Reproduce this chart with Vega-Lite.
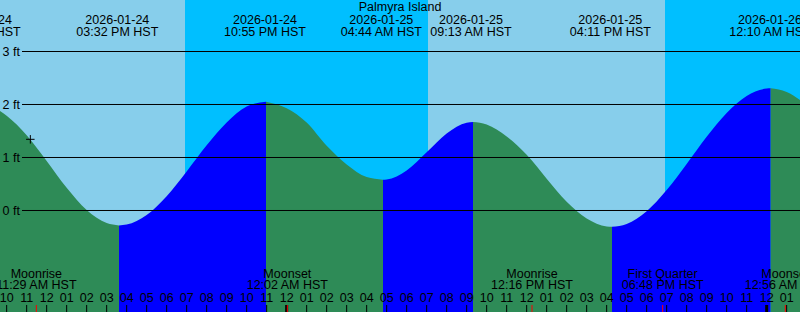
{
  "$schema": "https://vega.github.io/schema/vega-lite/v6.json",
  "width": 800,
  "height": 312,
  "padding": 0,
  "autosize": {"type": "none"},
  "background": "#87ceeb",
  "config": {"view": {"stroke": null}},
  "datasets": {
    "sky": [
      {"t0": "2026-01-24T09:00:00", "t1": "2026-01-24T18:55:00", "kind": "day"},
      {"t0": "2026-01-24T18:55:00", "t1": "2026-01-25T07:04:00", "kind": "night"},
      {"t0": "2026-01-25T07:04:00", "t1": "2026-01-25T18:55:00", "kind": "day"},
      {"t0": "2026-01-25T18:55:00", "t1": "2026-01-26T02:00:00", "kind": "night"}
    ],
    "tide": [
      {"t": "2026-01-24T09:40:00", "ft": 1.877, "seg": "A", "kind": "fall"},
      {"t": "2026-01-24T10:00:00", "ft": 1.787, "seg": "A", "kind": "fall"},
      {"t": "2026-01-24T11:00:00", "ft": 1.421, "seg": "A", "kind": "fall"},
      {"t": "2026-01-24T12:00:00", "ft": 0.935, "seg": "A", "kind": "fall"},
      {"t": "2026-01-24T13:00:00", "ft": 0.429, "seg": "A", "kind": "fall"},
      {"t": "2026-01-24T14:00:00", "ft": 0.008, "seg": "A", "kind": "fall"},
      {"t": "2026-01-24T15:00:00", "ft": -0.238, "seg": "A", "kind": "fall"},
      {"t": "2026-01-24T15:37:00", "ft": -0.282, "seg": "A", "kind": "fall"},
      {"t": "2026-01-24T15:37:00", "ft": -0.282, "seg": "B", "kind": "rise"},
      {"t": "2026-01-24T16:00:00", "ft": -0.266, "seg": "B", "kind": "rise"},
      {"t": "2026-01-24T17:00:00", "ft": -0.085, "seg": "B", "kind": "rise"},
      {"t": "2026-01-24T18:00:00", "ft": 0.27, "seg": "B", "kind": "rise"},
      {"t": "2026-01-24T19:00:00", "ft": 0.737, "seg": "B", "kind": "rise"},
      {"t": "2026-01-24T20:00:00", "ft": 1.229, "seg": "B", "kind": "rise"},
      {"t": "2026-01-24T21:00:00", "ft": 1.661, "seg": "B", "kind": "rise"},
      {"t": "2026-01-24T22:00:00", "ft": 1.96, "seg": "B", "kind": "rise"},
      {"t": "2026-01-24T22:58:00", "ft": 2.053, "seg": "B", "kind": "rise"},
      {"t": "2026-01-24T22:58:00", "ft": 2.053, "seg": "C", "kind": "fall"},
      {"t": "2026-01-25T00:00:00", "ft": 1.93, "seg": "C", "kind": "fall"},
      {"t": "2026-01-25T01:00:00", "ft": 1.66, "seg": "C", "kind": "fall"},
      {"t": "2026-01-25T02:00:00", "ft": 1.22, "seg": "C", "kind": "fall"},
      {"t": "2026-01-25T03:00:00", "ft": 0.87, "seg": "C", "kind": "fall"},
      {"t": "2026-01-25T04:00:00", "ft": 0.632, "seg": "C", "kind": "fall"},
      {"t": "2026-01-25T04:49:00", "ft": 0.581, "seg": "C", "kind": "fall"},
      {"t": "2026-01-25T04:49:00", "ft": 0.581, "seg": "D", "kind": "rise"},
      {"t": "2026-01-25T05:00:00", "ft": 0.585, "seg": "D", "kind": "rise"},
      {"t": "2026-01-25T06:00:00", "ft": 0.755, "seg": "D", "kind": "rise"},
      {"t": "2026-01-25T07:00:00", "ft": 1.098, "seg": "D", "kind": "rise"},
      {"t": "2026-01-25T08:00:00", "ft": 1.455, "seg": "D", "kind": "rise"},
      {"t": "2026-01-25T09:00:00", "ft": 1.657, "seg": "D", "kind": "rise"},
      {"t": "2026-01-25T09:19:00", "ft": 1.67, "seg": "D", "kind": "rise"},
      {"t": "2026-01-25T09:19:00", "ft": 1.67, "seg": "E", "kind": "fall"},
      {"t": "2026-01-25T10:00:00", "ft": 1.622, "seg": "E", "kind": "fall"},
      {"t": "2026-01-25T11:00:00", "ft": 1.395, "seg": "E", "kind": "fall"},
      {"t": "2026-01-25T12:00:00", "ft": 1.05, "seg": "E", "kind": "fall"},
      {"t": "2026-01-25T13:00:00", "ft": 0.6, "seg": "E", "kind": "fall"},
      {"t": "2026-01-25T14:00:00", "ft": 0.164, "seg": "E", "kind": "fall"},
      {"t": "2026-01-25T15:00:00", "ft": -0.15, "seg": "E", "kind": "fall"},
      {"t": "2026-01-25T16:00:00", "ft": -0.3, "seg": "E", "kind": "fall"},
      {"t": "2026-01-25T16:16:00", "ft": -0.306, "seg": "E", "kind": "fall"},
      {"t": "2026-01-25T16:16:00", "ft": -0.306, "seg": "F", "kind": "rise"},
      {"t": "2026-01-25T17:00:00", "ft": -0.253, "seg": "F", "kind": "rise"},
      {"t": "2026-01-25T18:00:00", "ft": -0.013, "seg": "F", "kind": "rise"},
      {"t": "2026-01-25T19:00:00", "ft": 0.385, "seg": "F", "kind": "rise"},
      {"t": "2026-01-25T20:00:00", "ft": 0.878, "seg": "F", "kind": "rise"},
      {"t": "2026-01-25T21:00:00", "ft": 1.39, "seg": "F", "kind": "rise"},
      {"t": "2026-01-25T22:00:00", "ft": 1.84, "seg": "F", "kind": "rise"},
      {"t": "2026-01-25T23:00:00", "ft": 2.162, "seg": "F", "kind": "rise"},
      {"t": "2026-01-26T00:00:00", "ft": 2.302, "seg": "F", "kind": "rise"},
      {"t": "2026-01-26T00:12:00", "ft": 2.306, "seg": "F", "kind": "rise"},
      {"t": "2026-01-26T00:12:00", "ft": 2.306, "seg": "G", "kind": "fall"},
      {"t": "2026-01-26T01:00:00", "ft": 2.237, "seg": "G", "kind": "fall"},
      {"t": "2026-01-26T01:40:00", "ft": 2.085, "seg": "G", "kind": "fall"},
      {"t": "2026-01-26T02:00:00", "ft": 1.98, "seg": "G", "kind": "fall"}
    ],
    "grid": [
      {"v": 0, "lab": "0 ft"},
      {"v": 1, "lab": "1 ft"},
      {"v": 2, "lab": "2 ft"},
      {"v": 3, "lab": "3 ft"}
    ],
    "hours": [
      {"t": "2026-01-24T10:00:00"}, {"t": "2026-01-24T11:00:00"}, {"t": "2026-01-24T12:00:00"},
      {"t": "2026-01-24T13:00:00"}, {"t": "2026-01-24T14:00:00"}, {"t": "2026-01-24T15:00:00"},
      {"t": "2026-01-24T16:00:00"}, {"t": "2026-01-24T17:00:00"}, {"t": "2026-01-24T18:00:00"},
      {"t": "2026-01-24T19:00:00"}, {"t": "2026-01-24T20:00:00"}, {"t": "2026-01-24T21:00:00"},
      {"t": "2026-01-24T22:00:00"}, {"t": "2026-01-24T23:00:00"}, {"t": "2026-01-25T00:00:00"},
      {"t": "2026-01-25T01:00:00"}, {"t": "2026-01-25T02:00:00"}, {"t": "2026-01-25T03:00:00"},
      {"t": "2026-01-25T04:00:00"}, {"t": "2026-01-25T05:00:00"}, {"t": "2026-01-25T06:00:00"},
      {"t": "2026-01-25T07:00:00"}, {"t": "2026-01-25T08:00:00"}, {"t": "2026-01-25T09:00:00"},
      {"t": "2026-01-25T10:00:00"}, {"t": "2026-01-25T11:00:00"}, {"t": "2026-01-25T12:00:00"},
      {"t": "2026-01-25T13:00:00"}, {"t": "2026-01-25T14:00:00"}, {"t": "2026-01-25T15:00:00"},
      {"t": "2026-01-25T16:00:00"}, {"t": "2026-01-25T17:00:00"}, {"t": "2026-01-25T18:00:00"},
      {"t": "2026-01-25T19:00:00"}, {"t": "2026-01-25T20:00:00"}, {"t": "2026-01-25T21:00:00"},
      {"t": "2026-01-25T22:00:00"}, {"t": "2026-01-25T23:00:00"}, {"t": "2026-01-26T00:00:00"},
      {"t": "2026-01-26T01:00:00"}
    ],
    "midnights": [
      {"t": "2026-01-25T00:00:00"},
      {"t": "2026-01-26T00:00:00"}
    ],
    "moon": [
      {"t": "2026-01-24T11:29:00", "name": "Moonrise", "time": "11:29 AM HST"},
      {"t": "2026-01-25T00:02:00", "name": "Moonset", "time": "12:02 AM HST"},
      {"t": "2026-01-25T12:16:00", "name": "Moonrise", "time": "12:16 PM HST"},
      {"t": "2026-01-25T18:48:00", "name": "First Quarter", "time": "06:48 PM HST"},
      {"t": "2026-01-26T00:56:00", "name": "Moonset", "time": "12:56 AM HST"}
    ],
    "events": [
      {"t": "2026-01-24T08:40:00", "date": "2026-01-24", "time": "08:40 AM HST"},
      {"t": "2026-01-24T15:32:00", "date": "2026-01-24", "time": "03:32 PM HST"},
      {"t": "2026-01-24T22:55:00", "date": "2026-01-24", "time": "10:55 PM HST"},
      {"t": "2026-01-25T04:44:00", "date": "2026-01-25", "time": "04:44 AM HST"},
      {"t": "2026-01-25T09:13:00", "date": "2026-01-25", "time": "09:13 AM HST"},
      {"t": "2026-01-25T16:11:00", "date": "2026-01-25", "time": "04:11 PM HST"},
      {"t": "2026-01-26T00:10:00", "date": "2026-01-26", "time": "12:10 AM HST"}
    ],
    "title": [
      {"t": "2026-01-25T05:40:00", "name": "Palmyra Island"}
    ],
    "marker": [
      {"t": "2026-01-24T11:11:00", "ft": 1.343}
    ]
  },
  "layer": [
    {
      "data": {"name": "sky"},
      "mark": {"type": "rect"},
      "encoding": {
        "x": {"field": "t0", "type": "temporal", "axis": null,
              "scale": {"domain": [{"year": 2026, "month": 1, "date": 24, "hours": 9, "minutes": 40},
                                   {"year": 2026, "month": 1, "date": 26, "hours": 1, "minutes": 40}], "nice": false}},
        "x2": {"field": "t1"},
        "y": {"datum": 3.9717, "type": "quantitative", "axis": null,
              "scale": {"domain": [-1.9151, 3.9717], "nice": false, "zero": false}},
        "y2": {"datum": -1.9151},
        "color": {"field": "kind", "type": "nominal", "legend": null,
                  "scale": {"domain": ["day", "night", "rise", "fall"],
                            "range": ["#87ceeb", "#00bfff", "#0000ff", "#2e8b57"]}}
      }
    },
    {
      "data": {"name": "tide"},
      "mark": {"type": "area", "interpolate": "monotone", "clip": true, "opacity": 1},
      "encoding": {
        "x": {"field": "t", "type": "temporal"},
        "y": {"field": "ft", "type": "quantitative", "stack": null},
        "y2": {"datum": -2.2},
        "color": {"field": "kind", "type": "nominal"},
        "detail": {"field": "seg"}
      }
    },
    {
      "data": {"name": "grid"},
      "mark": {"type": "rule", "color": "black", "strokeWidth": 1},
      "encoding": {
        "x": {"datum": {"year": 2026, "month": 1, "date": 24, "hours": 10, "minutes": 46}, "type": "temporal"},
        "x2": {"datum": {"year": 2026, "month": 1, "date": 26, "hours": 1, "minutes": 40}},
        "y": {"field": "v", "type": "quantitative"}
      }
    },
    {
      "data": {"name": "grid"},
      "mark": {"type": "text", "align": "left", "baseline": "alphabetic", "dx": 2.5, "dy": 4.2,
               "font": "Liberation Sans", "fontSize": 12.5, "color": "black"},
      "encoding": {
        "x": {"datum": {"year": 2026, "month": 1, "date": 24, "hours": 9, "minutes": 40}, "type": "temporal"},
        "y": {"field": "v", "type": "quantitative"},
        "text": {"field": "lab"}
      }
    },
    {
      "data": {"name": "hours"},
      "mark": {"type": "rule", "color": "black", "strokeWidth": 1, "clip": true},
      "encoding": {
        "x": {"field": "t", "type": "temporal"},
        "y": {"datum": -1.783},
        "y2": {"datum": -2.2}
      }
    },
    {
      "data": {"name": "midnights"},
      "mark": {"type": "rule", "color": "black", "strokeWidth": 3, "clip": true},
      "encoding": {
        "x": {"field": "t", "type": "temporal"},
        "y": {"datum": -1.783},
        "y2": {"datum": -2.2}
      }
    },
    {
      "data": {"name": "moon"},
      "mark": {"type": "rule", "color": "#ff0000", "strokeWidth": 1, "clip": true},
      "encoding": {
        "x": {"field": "t", "type": "temporal"},
        "y": {"datum": -1.783},
        "y2": {"datum": -2.2}
      }
    },
    {
      "data": {"name": "hours"},
      "mark": {"type": "text", "baseline": "alphabetic", "font": "Liberation Sans", "fontSize": 12.5, "color": "black", "clip": true},
      "encoding": {
        "x": {"field": "t", "type": "temporal"},
        "y": {"datum": -1.721},
        "text": {"field": "t", "type": "temporal", "format": "%I"}
      }
    },
    {
      "data": {"name": "moon"},
      "mark": {"type": "text", "baseline": "alphabetic", "font": "Liberation Sans", "fontSize": 12.5, "color": "black", "clip": true},
      "encoding": {
        "x": {"field": "t", "type": "temporal"},
        "y": {"datum": -1.279},
        "text": {"field": "name"}
      }
    },
    {
      "data": {"name": "moon"},
      "mark": {"type": "text", "baseline": "alphabetic", "font": "Liberation Sans", "fontSize": 12.5, "color": "black", "clip": true},
      "encoding": {
        "x": {"field": "t", "type": "temporal"},
        "y": {"datum": -1.487},
        "text": {"field": "time"}
      }
    },
    {
      "data": {"name": "events"},
      "mark": {"type": "text", "baseline": "alphabetic", "font": "Liberation Sans", "fontSize": 12.5, "color": "black", "clip": true},
      "encoding": {
        "x": {"field": "t", "type": "temporal"},
        "y": {"datum": 3.519},
        "text": {"field": "date"}
      }
    },
    {
      "data": {"name": "events"},
      "mark": {"type": "text", "baseline": "alphabetic", "font": "Liberation Sans", "fontSize": 12.5, "color": "black", "clip": true},
      "encoding": {
        "x": {"field": "t", "type": "temporal"},
        "y": {"datum": 3.292},
        "text": {"field": "time"}
      }
    },
    {
      "data": {"name": "title"},
      "mark": {"type": "text", "baseline": "alphabetic", "font": "Liberation Sans", "fontSize": 12.5, "color": "black", "clip": true},
      "encoding": {
        "x": {"field": "t", "type": "temporal"},
        "y": {"datum": 3.77},
        "text": {"field": "name"}
      }
    },
    {
      "data": {"name": "marker"},
      "mark": {"type": "point", "shape": "M-1,0L1,0M0,-1L0,1", "size": 72, "filled": false,
               "stroke": "black", "strokeWidth": 1, "opacity": 1},
      "encoding": {
        "x": {"field": "t", "type": "temporal"},
        "y": {"field": "ft", "type": "quantitative"}
      }
    }
  ]
}
